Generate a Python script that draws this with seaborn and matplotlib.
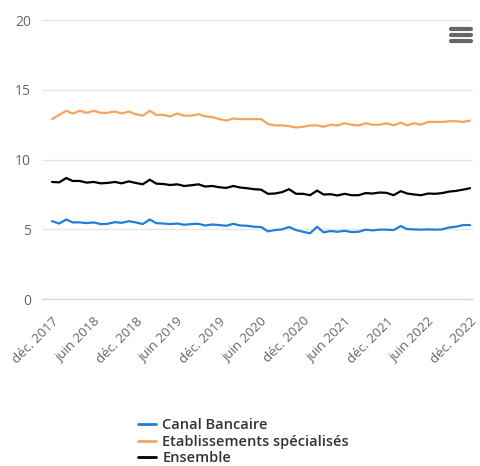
import pandas as pd
import seaborn as sns
import matplotlib.pyplot as plt
from matplotlib.lines import Line2D

# monthly series, déc. 2017 -> déc. 2022
months = pd.date_range("2017-12-01", "2022-12-01", freq="MS")

canal_bancaire = [
    5.59, 5.42, 5.71, 5.50, 5.50, 5.45, 5.50, 5.38, 5.40, 5.52,
    5.47, 5.59, 5.50, 5.38, 5.71, 5.45, 5.42, 5.38, 5.42, 5.33,
    5.38, 5.40, 5.28, 5.35, 5.31, 5.26, 5.40, 5.28, 5.26, 5.19,
    5.17, 4.86, 4.95, 5.00, 5.17, 4.95, 4.83, 4.72, 5.19, 4.79,
    4.88, 4.83, 4.90, 4.81, 4.83, 4.98, 4.93, 4.98, 4.98, 4.95,
    5.24, 5.02, 5.00, 4.98, 5.00, 4.98, 5.00, 5.14, 5.19, 5.31,
    5.31,
]
etablissements = [
    12.90, 13.20, 13.50, 13.30, 13.50, 13.35, 13.50, 13.35, 13.35, 13.45,
    13.30, 13.45, 13.25, 13.15, 13.50, 13.20, 13.20, 13.10, 13.30, 13.15,
    13.15, 13.25, 13.10, 13.05, 12.90, 12.80, 12.95, 12.90, 12.90, 12.90,
    12.90, 12.55, 12.45, 12.45, 12.40, 12.30, 12.35, 12.45, 12.45, 12.35,
    12.50, 12.45, 12.60, 12.50, 12.45, 12.60, 12.50, 12.50, 12.60, 12.45,
    12.65, 12.45, 12.60, 12.50, 12.70, 12.70, 12.70, 12.75, 12.75, 12.70,
    12.80,
]
ensemble = [
    8.40, 8.37, 8.68, 8.47, 8.47, 8.35, 8.40, 8.30, 8.33, 8.40,
    8.30, 8.44, 8.33, 8.23, 8.56, 8.28, 8.25, 8.18, 8.23, 8.11,
    8.16, 8.23, 8.07, 8.11, 8.02, 7.97, 8.11, 8.00, 7.95, 7.88,
    7.85, 7.55, 7.57, 7.67, 7.88, 7.55, 7.55, 7.45, 7.78, 7.50,
    7.52, 7.43, 7.55, 7.45, 7.45, 7.60, 7.57, 7.64, 7.62, 7.45,
    7.74, 7.57, 7.50, 7.45, 7.57, 7.55, 7.60, 7.71, 7.76, 7.85,
    7.95,
]

series_names = ["Canal Bancaire", "Etablissements spécialisés", "Ensemble"]
colors = ["#1f7fd8", "#f7a35c", "#000000"]

tick_dates = pd.date_range("2017-12-01", "2022-12-01", freq="6MS")
mois = {12: "déc.", 6: "juin"}
tick_labels = [f"{mois[d.month]} {d.year}" for d in tick_dates]

df = pd.DataFrame({
    "date": list(months) * 3,
    "valeur": canal_bancaire + etablissements + ensemble,
    "serie": [series_names[0]] * len(months) + [series_names[1]] * len(months)
             + [series_names[2]] * len(months),
})

sns.set_style("white")
plt.rcParams["font.family"] = ["Open Sans", "DejaVu Sans"]

fig = plt.figure(figsize=(4.8, 4.66), dpi=100)
ax = fig.add_axes([0.0875, 0.358, 0.898, 0.599])

sns.lineplot(data=df, x="date", y="valeur", hue="serie", hue_order=series_names,
             palette=colors, linewidth=1.6, ax=ax, legend=False)

pad_l = pd.Timedelta(days=44)
pad_r = pd.Timedelta(days=13)
ax.set_xlim(months[0] - pad_l, months[-1] + pad_r)
ax.set_ylim(0, 20)
ax.set_yticks([0, 5, 10, 15, 20])
ax.yaxis.grid(True, color="#e6e6e6", linewidth=1)
ax.set_xticks(tick_dates)
ax.set_xticklabels(tick_labels, rotation=45, ha="right", rotation_mode="anchor")
ax.set_xlabel("")
ax.set_ylabel("")

for side in ["top", "right", "left"]:
    ax.spines[side].set_visible(False)
ax.spines["bottom"].set_color("#ccd6eb")
ax.tick_params(axis="x", colors="#ccd6eb", length=9, width=1, direction="out",
               labelcolor="#666666", labelsize=9.6, pad=2)
ax.tick_params(axis="y", length=0, labelcolor="#666666", labelsize=10, pad=8)

handles = [Line2D([], [], color=c, linewidth=2) for c in colors]
leg = fig.legend(handles, series_names, loc="upper left", bbox_to_anchor=(0.288, 0.102),
                 frameon=False, handlelength=1.2, handletextpad=0.45, labelspacing=0.16,
                 borderpad=0, borderaxespad=0,
                 prop={"size": 10.5, "weight": "semibold"})
for t in leg.get_texts():
    t.set_color("#333333")

# context menu icon
for yy in [0.938, 0.924, 0.911]:
    fig.add_artist(Line2D([0.94, 0.981], [yy, yy], color="#666666", linewidth=3,
                          solid_capstyle="round"))

fig.savefig("out.png", dpi=100)
